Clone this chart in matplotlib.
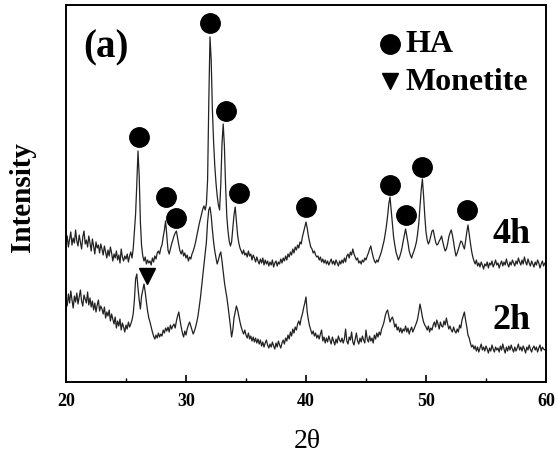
import numpy as np
import matplotlib
matplotlib.use("Agg")
import matplotlib.pyplot as plt

# XRD patterns after 2 h and 4 h (intensity in a.u., 4 h trace already offset above 2 h)
two_theta = np.round(np.arange(20.0, 60.05, 0.1), 1)

intensity_4h = [
    138, 146, 135, 143, 150, 137, 144, 139, 152, 141,  # 20
    136, 147, 140, 133, 145, 151, 138, 142, 135, 146,  # 21
    139, 131, 143, 136, 128, 140, 134, 137, 129, 138,  # 22
    133, 127, 136, 130, 124, 132, 126, 135, 129, 121,  # 23
    128, 124, 131, 122, 127, 119, 133, 125, 121, 126,  # 24
    123, 128, 120, 126, 130, 124, 133, 150, 168, 198,  # 25
    231, 206, 160, 136, 126, 121, 125, 118, 122, 119,  # 26
    121, 117, 124, 120, 126, 123, 129, 131, 128, 134,  # 27
    137, 145, 152, 161, 146, 132, 128, 133, 138, 142,  # 28
    146, 149, 151, 144, 137, 131, 128, 132, 126, 129,  # 29
    124, 127, 121, 125, 123, 128, 131, 135, 140, 146,  # 30
    152, 158, 163, 168, 173, 176, 172, 178, 202, 280,  # 31
    345, 322, 272, 240, 216, 199, 186, 177, 172, 198,  # 32
    238, 258, 236, 196, 166, 151, 141, 136, 140, 154,  # 33
    167, 175, 161, 147, 139, 134, 131, 128, 132, 127,  # 34
    129, 125, 131, 126, 128, 122, 127, 124, 120, 125,  # 35
    121, 118, 123, 119, 124, 117, 122, 118, 121, 116,  # 36
    120, 117, 122, 115, 119, 121, 116, 120, 118, 123,  # 37
    119, 124, 121, 126, 122, 128, 125, 130, 127, 133,  # 38
    129, 135, 132, 137, 134, 140, 138, 145, 150, 155,  # 39
    160, 154, 146, 140, 135, 133, 129, 131, 127, 125,  # 40
    126, 122, 125, 120, 123, 119, 122, 118, 121, 117,  # 41
    120, 123, 118, 121, 117, 122, 119, 116, 121, 118,  # 42
    122, 119, 124, 120, 126, 128, 124, 130, 127, 133,  # 43
    128, 125, 122, 124, 119, 121, 118, 122, 120, 124,  # 44
    122, 126, 129, 133, 136, 130, 125, 121, 119, 122,  # 45
    120, 124, 127, 131, 136, 141, 148, 156, 166, 178,  # 46
    185, 172, 158, 145, 137, 130, 126, 122, 125, 129,  # 47
    134, 141, 147, 153, 146, 139, 131, 127, 124, 128,  # 48
    131, 135, 140, 148, 159, 175, 192, 203, 186, 166,  # 49
    150, 142, 138, 141, 146, 151, 152, 146, 140, 137,  # 50
    138, 141, 143, 146, 140, 135, 131, 133, 138, 145,  # 51
    149, 152, 147, 140, 132, 126, 129, 133, 137, 141,  # 52
    140, 136, 133, 141, 150, 157, 148, 139, 131, 125,  # 53
    121, 118, 122, 116, 119, 115, 120, 117, 113, 118,  # 54
    116, 120, 114, 119, 117, 121, 115, 118, 122, 117,  # 55
    119, 114, 118, 121, 116, 120, 117, 123, 118, 115,  # 56
    120, 117, 122, 119, 116, 121, 118, 124, 120, 117,  # 57
    122, 118, 125, 120, 117, 123, 119, 116, 121, 118,  # 58
    115, 120, 117, 122, 119, 114, 118, 121, 116, 119,  # 59
    118,
]

intensity_2h = [
    83, 76, 88, 79, 91, 82, 74, 86, 80, 89,  # 20
    78, 85, 92, 81, 76, 87, 83, 79, 90, 77,  # 21
    84, 75, 81, 72, 79, 70, 77, 82, 71, 76,  # 22
    73, 68, 75, 64, 70, 66, 72, 61, 68, 63,  # 23
    58, 65, 54, 61, 56, 63, 52, 59, 55, 50,  # 24
    57, 53, 60, 55, 58, 62, 68, 82, 103, 108,  # 25
    94, 82, 73, 86, 92, 98, 90, 80, 71, 64,  # 26
    60, 55, 50, 46, 43, 47, 44, 49, 45, 48,  # 27
    46, 52, 49, 54, 51, 55, 50, 57, 53, 56,  # 28
    58, 54, 61, 66, 70, 62, 55, 49, 45, 51,  # 29
    47, 53, 57, 60, 56, 52, 48, 51, 55, 60,  # 30
    66, 75, 84, 95, 106, 116, 128, 140, 160, 172,  # 31
    175, 166, 152, 140, 131, 124, 118, 122, 127, 130,  # 32
    121, 110, 100, 92, 85, 76, 66, 56, 45, 52,  # 33
    64, 70, 76, 72, 66, 60, 55, 51, 48, 52,  # 34
    47, 44, 49, 43, 46, 41, 45, 40, 44, 39,  # 35
    43, 38, 42, 36, 40, 35, 39, 42, 37, 34,  # 36
    38, 35, 40, 36, 33, 39, 35, 41, 37, 34,  # 37
    39, 42, 38, 44, 41, 47, 43, 50, 46, 53,  # 38
    49, 55, 52, 58, 61, 57, 64, 68, 74, 79,  # 39
    85, 70, 62, 56, 52, 48, 51, 46, 49, 44,  # 40
    47, 43, 48, 52, 41, 45, 39, 44, 40, 46,  # 41
    42, 38, 45, 41, 37, 43, 39, 46, 42, 40,  # 42
    44, 39, 43, 53, 41, 38, 45, 42, 50, 40,  # 43
    37, 43, 49, 41, 38, 44, 40, 46, 42, 39,  # 44
    52, 43, 40, 46, 41, 44, 39, 47, 43, 49,  # 45
    45, 50, 47, 53, 56, 60, 66, 70, 72, 66,  # 46
    60, 63, 65, 61, 55, 58, 52, 55, 50, 54,  # 47
    49, 53, 51, 56, 50, 54, 48, 52, 55, 50,  # 48
    53, 56, 59, 63, 70, 78, 72, 65, 60, 57,  # 49
    55, 52, 56, 50, 54, 52, 57, 60, 55, 62,  # 50
    58, 53, 60, 56, 55, 61, 57, 64, 58, 53,  # 51
    56, 52, 50, 55, 51, 49, 53, 50, 57, 54,  # 52
    62, 66, 70, 62, 55, 47, 44, 39, 35, 37,  # 53
    33, 36, 31, 35, 30, 34, 38, 32, 35, 31,  # 54
    36, 33, 29, 34, 31, 37, 33, 30, 35, 32,  # 55
    34, 30, 36, 32, 38, 33, 29, 35, 31, 36,  # 56
    32, 37, 33, 30, 35, 31, 34, 38, 32, 35,  # 57
    31, 36, 33, 29, 35, 32, 37, 33, 30, 34,  # 58
    36, 32, 35, 30, 34, 37, 31, 35, 33, 32,  # 59
    34,
]

# phase markers (peak position, height of the marker)
ha_peaks = [26.1, 28.3, 29.2, 32.0, 33.3, 34.4, 40.0, 47.0, 48.3, 49.7, 53.4]
ha_marks = [245, 185, 164, 359, 271, 189, 175, 197, 167, 215, 172]
monetite_peaks = [26.75]
monetite_marks = [106]

plt.rcParams["font.family"] = "Liberation Serif"

fig = plt.figure(figsize=(5.56, 4.56), dpi=100)
ax = fig.add_axes([0.1187, 0.160, 0.8633, 0.827])

ax.plot(two_theta, intensity_4h, color="#222222", lw=0.9)
ax.plot(two_theta, intensity_2h, color="#222222", lw=0.9)

ax.plot(ha_peaks, ha_marks, "o", color="black", ms=14, ls="none")
ax.plot(monetite_peaks, monetite_marks, "v", color="black", ms=12, ls="none")

ax.set_xlim(20, 60)
ax.set_ylim(0, 377)
ax.set_xticks([20, 30, 40, 50, 60])
ax.set_xticks([25, 35, 45, 55], minor=True)
ax.set_yticks([])
ax.tick_params(axis="x", which="major", direction="in", length=5, width=1.2,
               pad=7, labelsize=13)
ax.tick_params(axis="x", which="minor", direction="in", length=3, width=1.0)
for lab in ax.get_xticklabels():
    lab.set_fontweight("bold")
for sp in ax.spines.values():
    sp.set_linewidth(1.4)

# legend drawn by hand
ax.plot([0.675], [0.897], "o", color="black", ms=14, transform=ax.transAxes)
ax.plot([0.675], [0.798], "v", color="black", ms=11, transform=ax.transAxes)
ax.text(0.707, 0.897, "HA", transform=ax.transAxes, fontsize=23,
        fontweight="bold", va="center", ha="left")
ax.text(0.707, 0.798, "Monetite", transform=ax.transAxes, fontsize=23,
        fontweight="bold", va="center", ha="left")

ax.text(0.083, 0.889, "(a)", transform=ax.transAxes, fontsize=28,
        fontweight="bold", va="center", ha="center")
ax.text(0.929, 0.395, "4h", transform=ax.transAxes, fontsize=26,
        fontweight="bold", va="center", ha="center")
ax.text(0.929, 0.167, "2h", transform=ax.transAxes, fontsize=26,
        fontweight="bold", va="center", ha="center")

fig.text(0.552, 0.031, "2θ", fontsize=20, ha="center", va="center")
fig.text(0.041, 0.568, "Intensity", fontsize=21, fontweight="bold",
         rotation=90, ha="center", va="center")

fig.savefig("out.png", dpi=100)
